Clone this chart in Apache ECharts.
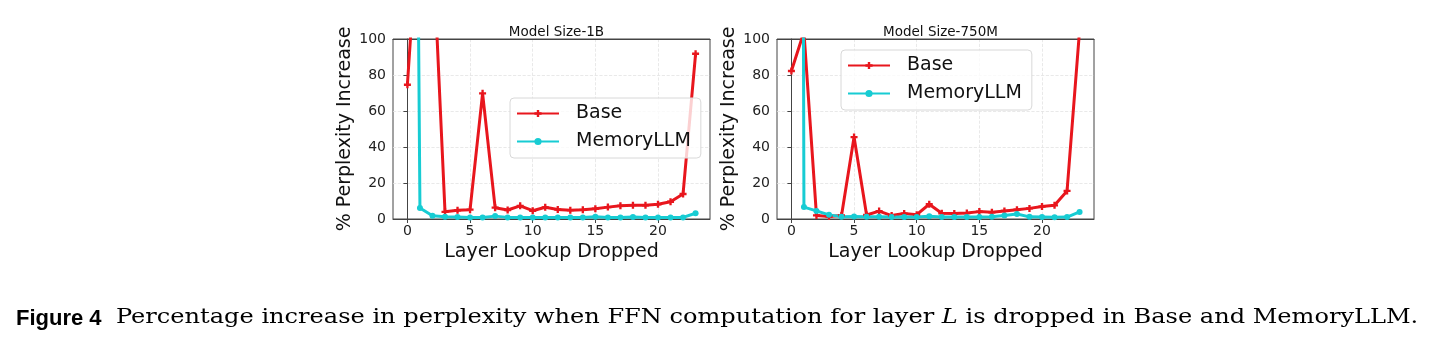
<!DOCTYPE html>
<html>
<head>
<meta charset="utf-8">
<script src="https://cdn.jsdelivr.net/npm/echarts@6/dist/echarts.min.js"></script>
<style>
  html, body { margin: 0; padding: 0; background: #fff; }
  #chart { width: 1432px; height: 346px; }
</style>
</head>
<body>
<div id="chart"></div>
<script>
const layers = [0, 1, 2, 3, 4, 5, 6, 7, 8, 9, 10, 11, 12, 13, 14, 15, 16, 17, 18, 19, 20, 21, 22, 23];
const xTicks = [0, 5, 10, 15, 20];
const panelTitles = ["Model Size-1B", "Model Size-750M"];

// values above 100 run off the top of the axes
const base1B = [74.6, 180, 157, 4.0, 4.8, 5.2, 69.8, 6.3, 5.0, 7.3, 4.6, 6.5, 5.3, 4.9, 5.1, 5.7, 6.6, 7.3, 7.7, 7.6, 8.2, 9.6, 13.9, 91.8];
const memory1B = [900, 6.1, 1.8, 1.3, 1.1, 0.9, 0.8, 1.6, 0.9, 0.9, 0.8, 0.8, 0.9, 0.9, 0.9, 1.2, 0.9, 0.9, 1.1, 0.9, 0.8, 0.9, 0.9, 3.2];
const base750M = [82.2, 104, 2.0, 1.4, 2.0, 45.5, 2.2, 4.4, 1.9, 3.0, 2.4, 8.2, 3.2, 3.0, 3.3, 4.1, 3.7, 4.5, 5.2, 5.9, 6.9, 7.6, 15.6, 105];
const memory750M = [2500, 6.6, 4.5, 2.3, 1.3, 1.4, 1.3, 1.2, 1.1, 1.1, 1.1, 1.5, 1.1, 1.1, 1.1, 1.1, 1.2, 2.0, 2.8, 1.2, 1.1, 1.0, 1.1, 3.9];

const RED = "#e8161d";
const CYAN = "#17ccd3";
const FONT = "DejaVu Sans";
const PLUS = "path://M2,0H4V2H6V4H4V6H2V4H0V2H2Z";

const grids = [
  { left: 393, top: 39, width: 317, height: 180 },
  { left: 777, top: 39, width: 317, height: 180 }
];

function xAxisFor(i) {
  return {
    type: "value", gridIndex: i, min: -1.15, max: 24.15,
    name: "Layer Lookup Dropped", nameLocation: "middle", nameGap: 24,
    nameTextStyle: { fontFamily: FONT, fontSize: 19, color: "#111" },
    axisLine: { show: true, lineStyle: { color: "#444", width: 1 } },
    axisTick: { show: true, length: 4, customValues: xTicks, lineStyle: { color: "#444" } },
    axisLabel: { customValues: xTicks, fontFamily: FONT, fontSize: 14, color: "#222", margin: 5 },
    splitLine: { show: true, lineStyle: { type: "dashed", color: "#e3e3e3", width: 0.8 } }
  };
}

// plain top spine so the dashed grid line at 100 does not show through
function topSpine(i) {
  return {
    type: "value", gridIndex: i, position: "top", min: -1.15, max: 24.15,
    axisLine: { show: true, onZero: false, lineStyle: { color: "#444", width: 1 } },
    axisTick: { show: false }, axisLabel: { show: false }, splitLine: { show: false }
  };
}

function yAxisFor(i) {
  return {
    type: "value", gridIndex: i, min: 0, max: 100, interval: 20,
    name: "% Perplexity Increase", nameLocation: "middle", nameGap: 38,
    nameTextStyle: { fontFamily: FONT, fontSize: 19, color: "#111" },
    axisLine: { show: true, lineStyle: { color: "#444", width: 1 } },
    axisTick: { show: true, length: 4, lineStyle: { color: "#444" } },
    axisLabel: { fontFamily: FONT, fontSize: 14, color: "#222", margin: 7 },
    splitLine: { show: true, lineStyle: { type: "dashed", color: "#e3e3e3", width: 0.8 } }
  };
}

function lineSeries(name, values, i, color, symbol, size) {
  return {
    name, type: "line", xAxisIndex: i, yAxisIndex: i,
    data: layers.map((x, k) => [x, values[k]]),
    symbol, symbolSize: size, showSymbol: true, clip: true,
    lineStyle: { color, width: 3 },
    itemStyle: { color },
    emphasis: { disabled: true }
  };
}

function legendAt(left, top) {
  return {
    left, top, orient: "vertical",
    data: ["Base", "MemoryLLM"],
    itemWidth: 42, itemHeight: 9, itemGap: 9,
    padding: [6, 10, 7, 6],
    backgroundColor: "rgba(255,255,255,0.8)",
    borderColor: "#d8d8d8", borderWidth: 1, borderRadius: 4,
    textStyle: { fontFamily: FONT, fontSize: 19, color: "#111", padding: [0, 0, 0, 12] },
    selectedMode: false
  };
}

const chart = echarts.init(document.getElementById("chart"), null, { renderer: "canvas" });
chart.setOption({
  animation: false,
  grid: grids.map(g => Object.assign({ show: true, borderColor: "#444", borderWidth: 1, backgroundColor: "transparent" }, g)),
  title: panelTitles.map((t, i) => ({
    text: t, left: grids[i].left + grids[i].width / 2, top: 20, textAlign: "center",
    textStyle: { fontFamily: FONT, fontSize: 13.5, fontWeight: "normal", color: "#111" }
  })),
  xAxis: [xAxisFor(0), xAxisFor(1), topSpine(0), topSpine(1)],
  yAxis: [yAxisFor(0), yAxisFor(1)],
  legend: [legendAt(510, 98), legendAt(841, 50)],
  series: [
    lineSeries("Base", base1B, 0, RED, PLUS, 7),
    lineSeries("MemoryLLM", memory1B, 0, CYAN, "circle", 6),
    lineSeries("Base", base750M, 1, RED, PLUS, 7),
    lineSeries("MemoryLLM", memory750M, 1, CYAN, "circle", 6)
  ],
  graphic: [
    {
      type: "text", left: 16, top: 308,
      style: { text: "Figure 4", font: "bold 22px 'Liberation Sans'", fill: "#000" }
    },
    {
      type: "text", x: 116, y: 307, scaleX: 1.146,
      style: {
        text: "{r|Percentage increase in perplexity when FFN computation for layer }{i|L}{r| is dropped in Base and MemoryLLM.}",
        rich: {
          r: { fontFamily: "DejaVu Serif", fontSize: 21, fill: "#000" },
          i: { fontFamily: "DejaVu Serif", fontStyle: "italic", fontSize: 21, fill: "#000" }
        }
      }
    }
  ]
});
</script>
</body>
</html>
